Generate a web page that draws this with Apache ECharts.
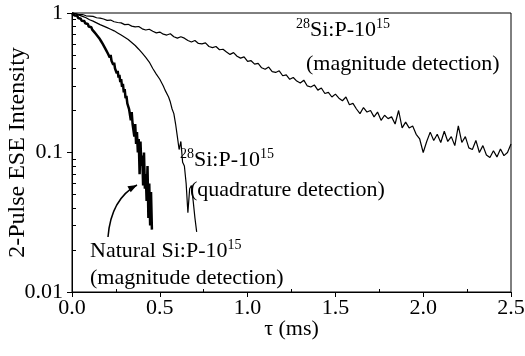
<!DOCTYPE html>
<html>
<head>
<meta charset="utf-8">
<script src="https://cdn.jsdelivr.net/npm/echarts@6/dist/echarts.min.js"></script>
<style>
  html, body { margin: 0; padding: 0; background: #fff; }
  #chart { width: 525px; height: 356px; }
</style>
</head>
<body>
<div id="chart"></div>
<script>
// tau sampling steps (ms) for each trace
const stepA = 0.02
const stepB = 0.01
const stepC = 0.005

// 28Si:P-10^15, magnitude detection
const valuesA = [
  1.00, 0.99, 0.975, 0.975, 0.955, 0.95, 0.945, 0.925, 0.92, 0.905,
  0.885, 0.89, 0.865, 0.855, 0.85, 0.825, 0.83, 0.805, 0.795, 0.80,
  0.77, 0.755, 0.765, 0.74, 0.72, 0.73, 0.705, 0.695, 0.71, 0.675,
  0.66, 0.675, 0.66, 0.635, 0.62, 0.635, 0.605, 0.60, 0.61, 0.575,
  0.565, 0.575, 0.545, 0.55, 0.525, 0.505, 0.52, 0.49, 0.475, 0.485,
  0.45, 0.455, 0.43, 0.435, 0.405, 0.395, 0.41, 0.38, 0.375, 0.385,
  0.355, 0.36, 0.335, 0.345, 0.325, 0.315, 0.33, 0.30, 0.295, 0.305,
  0.28, 0.29, 0.265, 0.27, 0.25, 0.262, 0.245, 0.235, 0.25, 0.22,
  0.225, 0.205, 0.19, 0.21, 0.195, 0.20, 0.18, 0.195, 0.17, 0.185,
  0.175, 0.18, 0.16, 0.20, 0.15, 0.165, 0.15, 0.155, 0.135, 0.125,
  0.10, 0.12, 0.14, 0.122, 0.135, 0.118, 0.142, 0.12, 0.13, 0.112,
  0.155, 0.118, 0.13, 0.108, 0.105, 0.122, 0.10, 0.112, 0.096, 0.092,
  0.103, 0.093, 0.106, 0.095, 0.10, 0.115
]

// 28Si:P-10^15, quadrature detection
const valuesB = [
  1.0, 0.99, 0.985, 0.97, 0.965, 0.95, 0.945, 0.93, 0.925, 0.91,
  0.895, 0.89, 0.875, 0.865, 0.85, 0.84, 0.825, 0.82, 0.805, 0.80,
  0.785, 0.78, 0.765, 0.755, 0.745, 0.735, 0.72, 0.715, 0.695, 0.69,
  0.67, 0.665, 0.645, 0.64, 0.615, 0.615, 0.585, 0.58, 0.55, 0.545,
  0.515, 0.51, 0.48, 0.47, 0.445, 0.435, 0.40, 0.40, 0.365, 0.365,
  0.335, 0.33, 0.30, 0.28, 0.275, 0.25, 0.23, 0.205, 0.19, 0.16,
  0.13, 0.105, 0.12, 0.085, 0.08, 0.06, 0.037, 0.055, 0.058, 0.045,
  0.034, 0.027
]

// Natural Si:P-10^15, magnitude detection
const valuesC = [
  1.00, 0.98, 0.99, 0.96, 0.97, 0.945, 0.955, 0.92, 0.935, 0.90,
  0.91, 0.88, 0.895, 0.86, 0.875, 0.845, 0.85, 0.82, 0.835, 0.80,
  0.815, 0.78, 0.79, 0.76, 0.77, 0.735, 0.745, 0.71, 0.72, 0.685,
  0.695, 0.66, 0.67, 0.63, 0.645, 0.60, 0.615, 0.57, 0.585, 0.54,
  0.555, 0.51, 0.525, 0.48, 0.50, 0.455, 0.465, 0.425, 0.44, 0.40,
  0.41, 0.37, 0.385, 0.345, 0.36, 0.32, 0.335, 0.295, 0.31, 0.27,
  0.285, 0.245, 0.255, 0.225, 0.23, 0.205, 0.21, 0.17, 0.195, 0.16,
  0.165, 0.13, 0.16, 0.115, 0.14, 0.10, 0.125, 0.07, 0.12, 0.08,
  0.095, 0.058, 0.10, 0.055, 0.07, 0.045, 0.08, 0.034, 0.06, 0.03,
  0.052, 0.028
]

const xTicksMinor = [0.25, 0.75, 1.25, 1.75, 2.25]
const yTicksMinor = [0.02, 0.03, 0.04, 0.05, 0.06, 0.07, 0.08, 0.09,
  0.2, 0.3, 0.4, 0.5, 0.6, 0.7, 0.8, 0.9]

const font = 'Liberation Serif'

function toPairs(values, step) {
  return values.map((v, i) => [+(i * step).toFixed(4), v])
}

// arrow pointing at the natural Si trace
const arrowStart = [108, 237]
const arrowCtrl = [111, 199]
const arrowTip = [137, 185]
function arrowHead() {
  const dx = arrowTip[0] - arrowCtrl[0], dy = arrowTip[1] - arrowCtrl[1]
  const len = Math.sqrt(dx * dx + dy * dy)
  const ux = dx / len, uy = dy / len
  const bx = arrowTip[0] - 9 * ux, by = arrowTip[1] - 9 * uy
  return [arrowTip, [bx - 3.5 * uy, by + 3.5 * ux], [bx + 3.5 * uy, by - 3.5 * ux]]
}

const supRich = {
  n: { fontFamily: font, fontSize: 22, fill: '#000', lineHeight: 26 },
  s: { fontFamily: font, fontSize: 14, fill: '#000', lineHeight: 26, verticalAlign: 'top' }
}

function label(x, y, text, rich) {
  return {
    type: 'text', x: x, y: y, silent: true,
    style: {
      text: text, font: '22px "' + font + '"', fill: '#000',
      textAlign: 'left', textVerticalAlign: 'middle', rich: rich ? supRich : undefined
    }
  }
}

let myChart = echarts.init(document.getElementById('chart'))
let option = {
  animation: false,
  backgroundColor: '#fff',
  grid: {
    left: 72, right: 14, top: 13, bottom: 64,
    show: true, borderColor: '#000', borderWidth: 1,
    containLabel: false, outerBoundsMode: 'none'
  },
  xAxis: [{
    type: 'value', min: 0, max: 2.5, interval: 0.5,
    name: 'τ (ms)', nameLocation: 'middle', nameGap: 26, nameMoveOverlap: false,
    nameTextStyle: { fontFamily: font, fontSize: 22, color: '#000' },
    axisLine: { lineStyle: { color: '#000', width: 1 } },
    axisTick: { inside: false, length: 5, lineStyle: { color: '#000' } },
    axisLabel: { fontFamily: font, fontSize: 22, color: '#000', margin: 5,
      formatter: v => v.toFixed(1) },
    splitLine: { show: false }
  }, {
    type: 'value', min: 0, max: 2.5, position: 'bottom', offset: 0,
    axisLine: { show: false },
    axisTick: { inside: true, length: 3, customValues: xTicksMinor, lineStyle: { color: '#000' } },
    axisLabel: { show: false },
    splitLine: { show: false }
  }],
  yAxis: [{
    type: 'log', logBase: 10, min: 0.01, max: 1,
    name: '2-Pulse ESE Intensity', nameLocation: 'middle', nameGap: 42, nameMoveOverlap: false,
    nameTextStyle: { fontFamily: font, fontSize: 24, color: '#000' },
    axisLine: { show: true, lineStyle: { color: '#000', width: 1 } },
    axisTick: { inside: false, length: 5, lineStyle: { color: '#000' } },
    axisLabel: { fontFamily: font, fontSize: 22, color: '#000', margin: 9,
      formatter: v => String(+(+v).toPrecision(3)) },
    splitLine: { show: false }
  }, {
    type: 'log', logBase: 10, min: 0.01, max: 1, position: 'left', offset: 0,
    axisLine: { show: false },
    axisTick: { inside: true, length: 4, customValues: yTicksMinor, lineStyle: { color: '#000' } },
    axisLabel: { show: false },
    splitLine: { show: false }
  }],
  series: [{
    name: 'magnitude 28Si', type: 'line', showSymbol: false, symbol: 'none',
    data: toPairs(valuesA, stepA),
    lineStyle: { color: '#000', width: 1.2 }
  }, {
    name: 'quadrature 28Si', type: 'line', showSymbol: false, symbol: 'none',
    data: toPairs(valuesB, stepB),
    lineStyle: { color: '#000', width: 1.2 }
  }, {
    name: 'natural Si', type: 'line', showSymbol: false, symbol: 'none',
    data: toPairs(valuesC, stepC),
    lineStyle: { color: '#000', width: 2.5 }
  }],
  graphic: [
    label(296, 30, '{s|28}{n|Si:P-10}{s|15}', true),
    label(306, 64, '(magnitude detection)'),
    label(180, 160, '{s|28}{n|Si:P-10}{s|15}', true),
    label(190, 190, '(quadrature detection)'),
    label(90, 251, '{n|Natural Si:P-10}{s|15}', true),
    label(90, 278, '(magnitude detection)'),
    {
      type: 'bezierCurve', silent: true,
      shape: { x1: arrowStart[0], y1: arrowStart[1], x2: arrowTip[0], y2: arrowTip[1],
        cpx1: arrowCtrl[0], cpy1: arrowCtrl[1] },
      style: { stroke: '#000', lineWidth: 1.5, fill: null }
    },
    {
      type: 'polygon', silent: true,
      shape: { points: arrowHead() },
      style: { fill: '#000' }
    }
  ]
}
myChart.setOption(option)
</script>
</body>
</html>
